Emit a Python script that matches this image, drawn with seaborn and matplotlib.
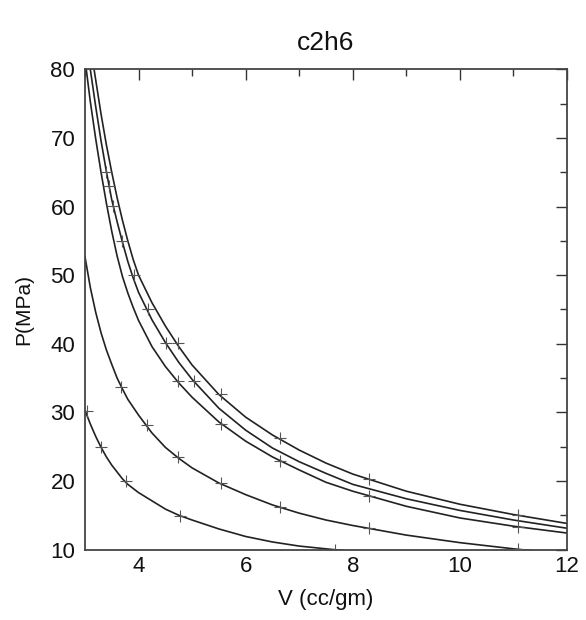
import matplotlib
matplotlib.use("Agg")
import matplotlib.pyplot as plt
import pandas as pd
import seaborn as sns
from matplotlib.ticker import MultipleLocator

TITLE = "c2h6"

# fitted isotherms (V in cc/gm, P in MPa)
V_A = [3.17, 3.3, 3.4, 3.5, 3.6, 3.7, 3.8, 3.9, 4.0, 4.25, 4.5, 4.75, 5.0, 5.5, 6.0, 6.5, 7.0, 7.5, 8.0, 9.0, 10.0, 11.0, 12.0]
P_A = [80.0, 73.5, 69.0, 65.0, 61.3, 58.0, 55.0, 52.3, 50.0, 46.0, 42.6, 39.6, 36.9, 32.6, 29.3, 26.7, 24.5, 22.6, 21.0, 18.5, 16.6, 15.1, 13.8]

V_B = [3.1, 3.2, 3.3, 3.4, 3.5, 3.6, 3.7, 3.8, 3.9, 4.0, 4.25, 4.5, 4.75, 5.0, 5.5, 6.0, 6.5, 7.0, 7.5, 8.0, 9.0, 10.0, 11.0, 12.0]
P_B = [80.0, 74.6, 69.6, 65.1, 61.0, 57.8, 54.8, 52.0, 49.6, 47.5, 43.5, 40.2, 37.3, 34.8, 30.6, 27.4, 24.8, 22.8, 21.1, 19.5, 17.4, 15.7, 14.3, 13.1]

V_C = [3.0, 3.1, 3.2, 3.3, 3.4, 3.5, 3.6, 3.7, 3.8, 3.9, 4.0, 4.25, 4.5, 4.75, 5.0, 5.5, 6.0, 6.5, 7.0, 7.5, 8.0, 9.0, 10.0, 11.0, 12.0]
P_C = [81.5, 75.3, 69.9, 65.0, 60.5, 56.4, 52.8, 49.8, 47.4, 45.3, 43.4, 39.6, 36.7, 34.3, 32.2, 28.6, 25.8, 23.5, 21.6, 19.8, 18.5, 16.3, 14.6, 13.4, 12.4]

V_D = [3.0, 3.1, 3.2, 3.3, 3.4, 3.5, 3.6, 3.7, 3.8, 4.0, 4.25, 4.5, 4.75, 5.0, 5.5, 6.0, 6.5, 7.0, 7.5, 8.0, 9.0, 10.0, 11.0, 12.0]
P_D = [52.7, 48.2, 44.6, 41.6, 39.1, 37.0, 35.0, 33.4, 31.9, 29.6, 27.0, 24.9, 23.3, 21.9, 19.7, 18.0, 16.5, 15.3, 14.3, 13.5, 12.1, 11.0, 10.1, 9.3]

V_E = [3.0, 3.1, 3.2, 3.3, 3.4, 3.5, 3.6, 3.7, 3.8, 4.0, 4.25, 4.5, 4.75, 5.0, 5.5, 6.0, 6.5, 7.0, 7.5, 8.0]
P_E = [30.3, 28.3, 26.5, 24.9, 23.5, 22.3, 21.3, 20.3, 19.5, 18.3, 17.1, 15.9, 15.0, 14.3, 13.0, 11.9, 11.1, 10.5, 10.1, 9.7]

# measured points (+ markers)
V_PTS = [3.03, 3.29, 3.76, 4.78, 7.66,
         3.68, 4.15, 4.74, 5.54, 6.64, 8.30, 11.08,
         3.39, 3.45, 3.53, 3.70, 3.92, 4.18, 4.51, 5.04,
         4.74, 5.54, 6.64, 8.30, 11.08,
         4.74, 5.54, 6.64, 8.30, 11.08]
P_PTS = [30.2, 25.0, 20.0, 14.9, 10.0,
         33.7, 28.1, 23.5, 19.7, 16.2, 13.1, 10.1,
         65.1, 63.0, 60.1, 55.0, 50.0, 45.0, 40.1, 34.6,
         40.1, 32.7, 26.2, 20.3, 15.0,
         34.6, 28.3, 22.9, 17.8, 13.3]

X_TICKS = [4, 6, 8, 10, 12]
Y_TICKS = [10, 20, 30, 40, 50, 60, 70, 80]


def main() -> int:
    sns.set_theme(style="white")
    plt.rcParams["font.family"] = ["Liberation Sans", "DejaVu Sans"]
    plt.rcParams["text.color"] = "#111111"
    plt.rcParams["axes.labelcolor"] = "#111111"
    plt.rcParams["xtick.labelcolor"] = "#111111"
    plt.rcParams["ytick.labelcolor"] = "#111111"

    curves = pd.concat(
        [
            pd.DataFrame({"V": v, "P": p, "curve": name})
            for name, v, p in [
                ("A", V_A, P_A),
                ("B", V_B, P_B),
                ("C", V_C, P_C),
                ("D", V_D, P_D),
                ("E", V_E, P_E),
            ]
        ],
        ignore_index=True,
    )
    points = pd.DataFrame({"V": V_PTS, "P": P_PTS})

    fig = plt.figure(figsize=(5.86, 6.2), dpi=100)
    ax = fig.add_axes([0.145, 0.1137, 0.8226, 0.7743])

    sns.lineplot(
        data=curves, x="V", y="P", units="curve", estimator=None,
        sort=False, color="#222222", linewidth=1.2, ax=ax,
    )
    ax.scatter(points["V"], points["P"], marker="+", s=70,
               color="#555555", linewidths=0.8, zorder=3)

    ax.set_xlim(3, 12)
    ax.set_ylim(10, 80)
    ax.set_xticks(X_TICKS)
    ax.set_yticks(Y_TICKS)
    ax.xaxis.set_minor_locator(MultipleLocator(1))
    ax.yaxis.set_minor_locator(MultipleLocator(5))
    ax.tick_params(which="both", direction="in", top=True, right=True,
                   color="#333333", labelsize=16, width=1.0)
    ax.tick_params(which="major", length=8)
    ax.tick_params(which="minor", length=5)
    ax.tick_params(axis="y", which="major", pad=7)
    ax.tick_params(axis="x", which="major", pad=5)
    for spine in ax.spines.values():
        spine.set_color("#444444")
        spine.set_linewidth(1.3)

    ax.set_xlabel("V (cc/gm)", fontsize=16, labelpad=8)
    ax.set_ylabel("P(MPa)", fontsize=15, labelpad=12)
    ax.set_title(TITLE, fontsize=19, pad=14)

    fig.savefig("out.png", dpi=100)
    plt.close(fig)
    return 0


if __name__ == "__main__":
    raise SystemExit(main())
